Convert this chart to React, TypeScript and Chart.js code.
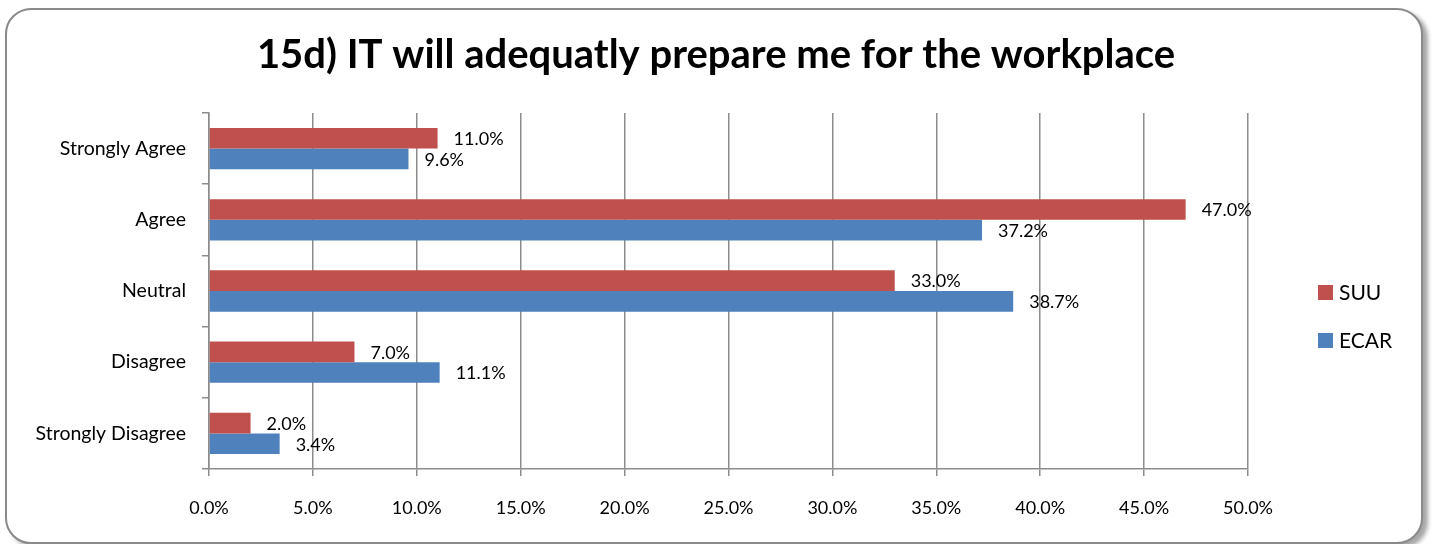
import React, { useEffect, useRef } from "react";
import { Chart, registerables } from "chart.js";

Chart.register(...registerables);

const categories = ["Strongly Agree", "Agree", "Neutral", "Disagree", "Strongly Disagree"];
const suuValues = [11.0, 47.0, 33.0, 7.0, 2.0];
const ecarValues = [9.6, 37.2, 38.7, 11.1, 3.4];
const seriesNames = ["SUU", "ECAR"];
const seriesColors = ["#C0504D", "#4F81BD"];
const titleText = "15d) IT will adequatly prepare me for the workplace";
const FONT = "Lato, 'Open Sans', sans-serif";

const labelPlugin = {
  id: "barLabels",
  afterDatasetsDraw(chart: any) {
    const ctx = chart.ctx;
    ctx.save();
    ctx.font = `18px ${FONT}`;
    ctx.fillStyle = "#000";
    ctx.textAlign = "left";
    ctx.textBaseline = "middle";
    chart.data.datasets.forEach((ds: any, di: number) => {
      const meta = chart.getDatasetMeta(di);
      meta.data.forEach((bar: any, i: number) => {
        const v = ds.data[i];
        ctx.fillText(v.toFixed(1) + "%", bar.x + 16, bar.y + 1);
      });
    });
    ctx.restore();
  },
};

const legendPlugin = {
  id: "customLegend",
  afterDraw(chart: any) {
    const ctx = chart.ctx;
    ctx.save();
    ctx.font = `21px ${FONT}`;
    ctx.textAlign = "left";
    ctx.textBaseline = "middle";
    const x = 1318;
    const y0 = 292;
    chart.data.datasets.forEach((ds: any, i: number) => {
      const y = y0 + i * 48;
      ctx.fillStyle = ds.backgroundColor;
      ctx.fillRect(x, y - 7, 15, 15);
      ctx.fillStyle = "#000";
      ctx.fillText(ds.label, x + 21, y + 1);
    });
    ctx.restore();
  },
};

export default function App() {
  const ref = useRef<HTMLCanvasElement>(null);
  useEffect(() => {
    const chart = new Chart(ref.current!, {
      type: "bar",
      data: {
        labels: categories,
        datasets: [
          { label: seriesNames[0], data: suuValues, backgroundColor: seriesColors[0], yAxisID: "y" },
          { label: seriesNames[1], data: ecarValues, backgroundColor: seriesColors[1], yAxisID: "y" },
        ],
      },
      options: {
        indexAxis: "y",
        animation: false,
        responsive: false,
        maintainAspectRatio: false,
        layout: { padding: 0 },
        datasets: { bar: { categoryPercentage: 0.58, barPercentage: 1.0 } },
        plugins: {
          legend: { display: false },
          tooltip: { enabled: false },
          title: {
            display: true,
            text: titleText,
            color: "#000",
            font: { family: FONT, size: 40, weight: "bold", lineHeight: 1.2 },
            padding: { top: 31, bottom: 34 },
          },
        },
        scales: {
          x: {
            min: 0,
            max: 50,
            ticks: {
              stepSize: 5,
              color: "#000",
              font: { family: FONT, size: 18 },
              padding: 21,
              callback: (v: any) => Number(v).toFixed(1) + "%",
            },
            grid: { color: "#8c8c8c", lineWidth: 1.5, tickLength: 7 },
            border: { color: "#8c8c8c", width: 1.5 },
            afterFit: (s: any) => { s.height = 75; },
          },
          y: {
            type: "category",
            position: "left",
            ticks: { color: "#000", font: { family: FONT, size: 19.5 }, padding: 16 },
            grid: { display: true, drawOnChartArea: false, offset: true, color: "#8c8c8c", lineWidth: 1.5, tickLength: 7 },
            border: { color: "#8c8c8c", width: 1.5 },
            afterFit: (s: any) => { s.width = 209; },
          },
          y2: {
            type: "category",
            position: "right",
            display: true,
            ticks: { display: false },
            grid: { display: false },
            border: { display: false },
            afterFit: (s: any) => { s.width = 184; },
          },
        },
      },
      plugins: [labelPlugin, legendPlugin],
    } as any);
    return () => chart.destroy();
  }, []);
  return (
    <div style={{ position: "fixed", left: 0, top: 0, width: 1432, height: 544, background: "#fff", overflow: "hidden" }}>
      <div
        style={{
          position: "absolute",
          left: 5,
          top: 8,
          width: 1414,
          height: 532,
          border: "2px solid #8a8a8a",
          borderRadius: 26,
          boxShadow: "5px 4px 4px rgba(0,0,0,0.35)",
          background: "#fff",
        }}
      />
      <canvas ref={ref} width={1432} height={544} style={{ position: "absolute", left: 0, top: 0 }} />
    </div>
  );
}
